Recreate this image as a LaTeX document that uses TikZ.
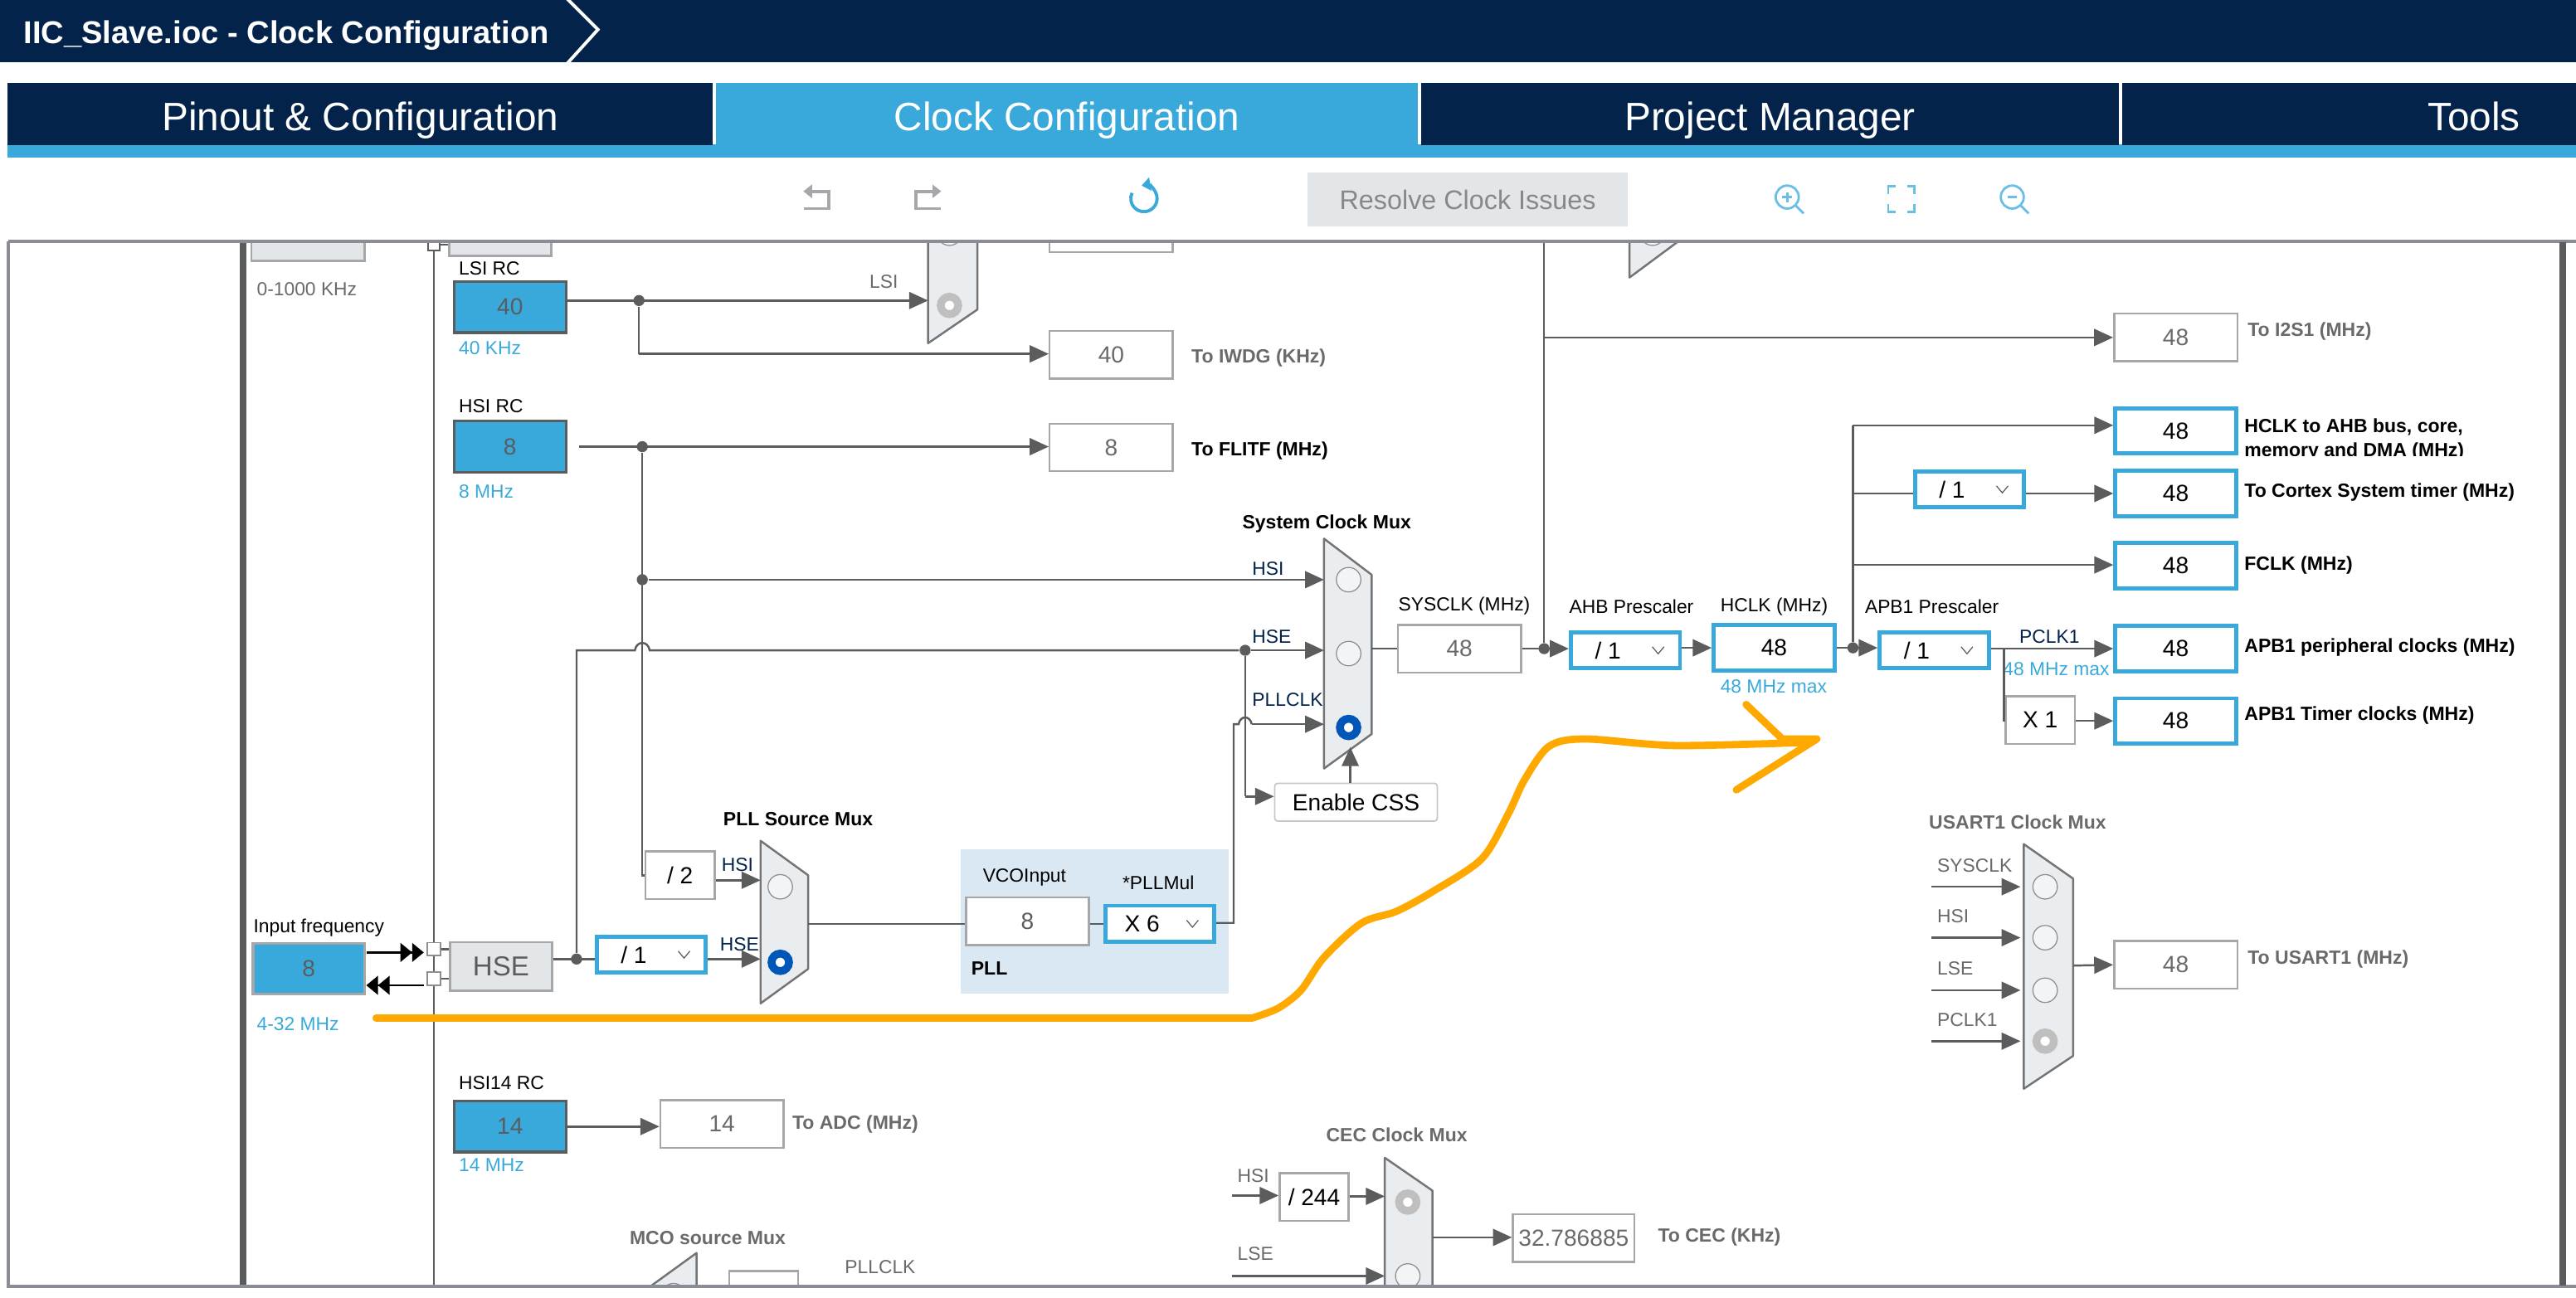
\documentclass[tikz,border=0pt]{standalone}
\usepackage{fontspec}
\setmainfont{Liberation Sans}
\usetikzlibrary{arrows.meta}
\definecolor{navy}{HTML}{03234B}
\definecolor{skyblue}{HTML}{39A9DC}
\definecolor{wirecol}{HTML}{5A5C5E}
\definecolor{panelline}{HTML}{8A8D95}
\definecolor{boxgray}{HTML}{A5A7AA}
\definecolor{softgray}{HTML}{E3E6E9}
\definecolor{muxfill}{HTML}{EAEDF0}
\definecolor{pllfill}{HTML}{DAE8F4}
\definecolor{textgray}{HTML}{6A6A6A}
\definecolor{radioblue}{HTML}{0057B8}
\definecolor{radiogray}{HTML}{BFBFBF}
\definecolor{strokeorange}{HTML}{FFA800}
\newcommand{\pxu}{0.5633pt}
\tikzset{
  wire/.style={draw=wirecol,line width=.7pt},
  feed/.style={wire,-{Triangle[length=6.5pt,width=5.8pt]}},
  padfeed/.style={draw=black,line width=.7pt,-{Triangle[length=4pt,width=6.4pt]Triangle[length=4pt,width=6.4pt]}},
  lbl/.style={anchor=west,inner sep=0pt,yshift=-.5pt,font=\fontsize{6.5}{8}\selectfont},
  lblgray/.style={lbl,text=textgray},
  lblnavy/.style={lbl,text=navy},
  lblblue/.style={lbl,text=skyblue},
  head/.style={lbl,font=\fontsize{6.55}{8}\selectfont\bfseries},
  headgray/.style={head,text=textgray},
  outbox/.style={draw=boxgray,fill=white,line width=.7pt,inner sep=0pt,minimum width=75*\pxu,minimum height=29*\pxu,font=\fontsize{8}{10}\selectfont,text=textgray},
  blueout/.style={draw=skyblue,fill=white,line width=1.4pt,inner sep=0pt,minimum width=73.5*\pxu,minimum height=27.5*\pxu,font=\fontsize{8}{10}\selectfont},
  smallbox/.style={outbox,minimum width=42*\pxu,text=black},
  dropbox/.style={draw=skyblue,fill=white,line width=1.4pt,inner sep=0pt,minimum width=66.5*\pxu,minimum height=22*\pxu,font=\fontsize{8}{10}\selectfont,
    execute at end node=\hspace{12pt},
    path picture={\draw[wirecol,line width=.35pt] ([xshift=-9.5pt,yshift=1.2pt]path picture bounding box.east) -- ++(2pt,-2.4pt) -- ++(2pt,2.4pt);}},
  srcbox/.style={draw=wirecol,fill=skyblue,line width=.9pt,inner sep=0pt,minimum width=68*\pxu,minimum height=31*\pxu,font=\fontsize{8}{10}\selectfont,text=wirecol},
  softbox/.style={draw=boxgray,fill=softgray,line width=.8pt,inner sep=0pt},
  joint/.style={circle,fill=wirecol,inner sep=0pt,minimum size=3.8pt},
  radiooff/.style={circle,draw=wirecol!70,fill=muxfill!60,line width=.35pt,inner sep=0pt,minimum size=8.4pt},
  radioon/.style={circle,draw=radioblue,fill=white,line width=2.7pt,inner sep=0pt,minimum size=6pt},
  radiosel/.style={circle,draw=radiogray,fill=white,line width=2.7pt,inner sep=0pt,minimum size=6pt},
  muxface/.style={fill=muxfill,draw=wirecol!85,line width=.7pt,line join=round},
  tabdark/.style={fill=navy,text=white,inner sep=0pt,minimum height=38*\pxu,text height=11.3pt,text depth=0pt,font=\fontsize{13.6}{16}\selectfont},
  tablight/.style={tabdark,fill=skyblue},
  toolgray/.style={draw=boxgray,line width=1.1pt},
  toolblue/.style={draw=skyblue!75,line width=.8pt},
  pen/.style={draw=strokeorange,line width=2.5pt,line cap=round,line join=round}
}
\begin{document}
\begin{tikzpicture}[x=0.0198cm,y=-0.0198cm]
  \useasboundingbox (0,0) rectangle (1568.2,790.4);
  \fill[navy] (0,0) rectangle (1570,38);
  \node[anchor=west,inner sep=0pt,text=white,font=\fontsize{10.85}{13}\selectfont\bfseries] (title) at (14,21.5) {IIC\_Slave.ioc - Clock Configuration};
  \draw[white,line width=1.1pt] (345,-1) -- (364,18) -- (345,39);
  \fill[skyblue] (4.6,88) rectangle (1570,96);
  \node[tabdark,minimum width=429.5*\pxu] (pinout) at (219.3,69.3) {Pinout \& Configuration};
  \node[tablight,minimum width=427*\pxu] (clock) at (649.5,69.3) {Clock Configuration};
  \node[tabdark,minimum width=425*\pxu] (project) at (1077.5,69.3) {Project Manager};
  \node[tabdark,minimum width=428*\pxu] (tools) at (1506,69.3) {Tools};
  \draw[toolgray,-{Triangle[length=3pt,width=4.5pt]}] (489.5,127) -- (504.5,127) -- (504.5,116.5) -- (489,116.5);
  \draw[toolgray,-{Triangle[length=3pt,width=4.5pt]}] (572.5,127) -- (557.5,127) -- (557.5,116.5) -- (573,116.5);
  \draw[draw=skyblue,line width=1.1pt,{Triangle[length=3pt,width=4.5pt]}-] (695,113) arc[start angle=-100,end angle=205,radius=8];
  \node[softbox,draw=none,text=textgray!80,minimum width=195*\pxu,minimum height=33*\pxu,font=\fontsize{9.2}{11}\selectfont] (resolve) at (893.5,121.5) {Resolve Clock Issues};
  \foreach \x in {1088,1225}{
    \draw[toolblue] (\x,120) circle (7);
    \draw[toolblue] (\x+5,125) -- (\x+10,130);
    \draw[toolblue] (\x-3,120) -- (\x+3,120);
  }
  \draw[toolblue] (1088,117) -- (1088,123);
  \draw[toolblue] (1154,113.5) -- (1149.5,113.5) -- (1149.5,118);
  \draw[toolblue] (1161,113.5) -- (1165.5,113.5) -- (1165.5,118);
  \draw[toolblue] (1154,129) -- (1149.5,129) -- (1149.5,124);
  \draw[toolblue] (1161,129) -- (1165.5,129) -- (1165.5,124);

  \begin{scope}
    \clip (5,147) rectangle (1560,783.5);
    \draw[wirecol,line width=2.2pt] (148,147) -- (148,784);
    \draw[wirecol,line width=.6pt] (264,147) -- (264,784);
    \node[softbox,minimum width=69*\pxu,minimum height=32*\pxu] (lsebox) at (187.5,143) {};
    \node[softbox,minimum width=62*\pxu,minimum height=30*\pxu] (lsepad) at (304.5,141) {};
    \node[lblgray] (lserange) at (156,175) {0-1000 KHz};
    \node[draw=wirecol,fill=white,line width=.5pt,inner sep=0pt,minimum width=7*\pxu,minimum height=7*\pxu] (lsesq) at (264,149) {};
    \draw[wire] (lsesq) -- (lsesq -| lsepad.west);

    \fill[pllfill] (585,517) rectangle (748,605);

    % LSI
    \node[lbl] (lsiname) at (279,162.5) {LSI RC};
    \node[srcbox] (lsirc) at (310.5,187) {40};
    \node[lblblue] (lsifreq) at (279,211) {40 KHz};
    \draw[muxface] (565,100) -- (595,100) -- (595,188.5) -- (565,209) -- cycle;
    \node[radiooff] (lsiport0) at (578,142) {};
    \node[radiosel] (lsiport) at (578,186) {};
    \coordinate (lsiin) at (565,183);
    \node[lblgray] (lsitag) at (529,170.5) {LSI};
    \node[joint] (lsijoin) at (389,183) {};
    \coordinate (iwdgturn) at (389,215.5);
    \node[outbox] (rtcout) at (676.5,139) {};
    \node[outbox] (iwdg) at (676.5,216) {40};
    \node[headgray] (iwdgtxt) at (725,217) {To IWDG (KHz)};
    \draw[feed] (lsirc.east |- lsiin) -- (lsiin);
    \draw[wire] (lsijoin) -- (iwdgturn);
    \draw[feed] (iwdgturn) -- (iwdg.west |- iwdgturn);

    % HSI
    \node[lbl] (hsiname) at (279,246.5) {HSI RC};
    \node[srcbox] (hsirc) at (310.5,272) {8};
    \node[lblblue] (hsifreq) at (279,298.5) {8 MHz};
    \node[joint] (hsijoin) at (391,272) {};
    \node[joint] (hsisys) at (391,353) {};
    \node[outbox] (flitf) at (676.5,272.5) {8};
    \node[head] (flitftxt) at (725,273.5) {To FLITF (MHz)};
    \node[smallbox] (hsidiv) at (414,533) {/ 2};
    \coordinate (hsidivturn) at (391,533);
    \draw[feed] ([xshift=4]hsirc.east |- hsijoin) -- (flitf.west |- hsijoin);
    \draw[wire] (hsijoin) -- (hsidivturn) -- (hsidiv.west);

    % system clock mux
    \node[head] (sysname) at (756,318) {System Clock Mux};
    \draw[muxface] (806,328) -- (835,350) -- (835,447) -- (806,468) -- cycle;
    \node[radiooff] (sysport1) at (821,353) {};
    \node[radiooff] (sysport2) at (821,398) {};
    \node[radioon] (sysport3) at (821,443) {};
    \coordinate (sysin1) at (806,353);
    \coordinate (sysin2) at (806,396);
    \coordinate (sysin3) at (806,441);
    \node[lblnavy] (syshsi) at (762,345.5) {HSI};
    \node[lblnavy] (syshse) at (762,387) {HSE};
    \node[lblnavy] (syspll) at (762,425) {PLLCLK};
    \draw[feed] (hsisys) -- (sysin1);

    % HSE
    \node[lbl] (inputname) at (154,564) {Input frequency};
    \node[srcbox,draw=boxgray] (inputfreq) at (188,590) {8};
    \node[lblblue] (inputrange) at (156,622.5) {4-32 MHz};
    \coordinate (oscintail) at (223,580);
    \coordinate (oscinhead) at (258,580);
    \coordinate (oscouttail) at (258,600);
    \coordinate (oscouthead) at (223,600);
    \draw[padfeed] (oscintail) -- (oscinhead);
    \draw[padfeed] (oscouttail) -- (oscouthead);
    \node[softbox,text=wirecol,minimum width=62*\pxu,minimum height=29.5*\pxu,font=\fontsize{9.4}{11}\selectfont] (hse) at (305,588.5) {HSE};
    \node[draw=wirecol!70,fill=white,line width=.5pt,inner sep=0pt,minimum width=8*\pxu,minimum height=8*\pxu] (oscin) at (264,578) {};
    \node[draw=wirecol!70,fill=white,line width=.5pt,inner sep=0pt,minimum width=8*\pxu,minimum height=8*\pxu] (oscout) at (264,596) {};
    \draw[wire] (oscin) -- (oscin -| hse.west);
    \draw[wire] (oscout) -- (oscout -| hse.west);
    \node[joint] (hsejoin) at (351,584) {};
    \node[dropbox] (hsediv) at (396.5,581.3) {/ 1};
    \coordinate (hseup) at (351,396);
    \coordinate (hopa) at (386.5,396);
    \coordinate (hopb) at (395.5,396);
    \node[joint] (hsesys) at (758,396) {};
    \draw[wire] (hse.east |- hsejoin) -- (hsediv.west |- hsejoin);
    \draw[wire] (hsejoin) -- (hseup) -- (hopa) .. controls (387.5,390) and (394.5,390) .. (hopb) -- (hsesys);
    \draw[feed] (hsesys) -- (sysin2);

    % PLL
    \node[head] (pllmuxname) at (440,498) {PLL Source Mux};
    \draw[muxface] (463,512) -- (492,533) -- (492,590) -- (463,611) -- cycle;
    \node[radiooff] (pllport1) at (475,540) {};
    \node[radioon] (pllport2) at (475,586) {};
    \coordinate (pllin1) at (463,536);
    \coordinate (pllin2) at (463,584);
    \coordinate (pllout) at (492,562.5);
    \node[lblnavy] (pllhsi) at (439,525.5) {HSI};
    \node[lblnavy] (pllhse) at (438,574) {HSE};
    \draw[feed] (hsidiv.east |- pllin1) -- (pllin1);
    \draw[feed] (hsediv.east |- pllin2) -- (pllin2);
    \node[lbl] (vconame) at (598,533.5) {VCOInput};
    \node[lbl] (mulname) at (683,536.5) {*PLLMul};
    \node[outbox,text=wirecol] (vcoin) at (625.5,561) {8};
    \node[dropbox] (pllmul) at (706,562.5) {X 6};
    \node[head] (pllname) at (591,589) {PLL};
    \draw[wire] (pllout) -- (vcoin.west |- pllout);
    \draw[wire] (vcoin.east |- pllmul) -- (pllmul.west);
    \coordinate (pllturn) at (751,562);
    \coordinate (pllup) at (751,441);
    \coordinate (pllhopa) at (754,441);
    \coordinate (pllhopb) at (762,441);
    \draw[wire] (pllmul.east |- pllturn) -- (pllturn) -- (pllup) -- (pllhopa) .. controls (755,435.5) and (761,435.5) .. (pllhopb);
    \draw[feed] (pllhopb) -- (sysin3);

    % clock security
    \node[draw=softgray!70!gray,fill=white,rounded corners=1pt,line width=.5pt,inner sep=0pt,minimum width=99*\pxu,minimum height=23*\pxu,font=\fontsize{8}{10}\selectfont] (css) at (825.5,488.5) {Enable CSS};
    \coordinate (cssturn) at (758,485);
    \draw[wire] (hsesys) -- (cssturn);
    \draw[feed] (cssturn) -- (css.west |- cssturn);
    \coordinate (cssport) at (822,455);
    \draw[feed] (css.north -| cssport) -- (cssport);

    % sysclk chain
    \node[lbl] (sysclkname) at (851,368) {SYSCLK (MHz)};
    \node[outbox] (sysclk) at (888.5,395) {48};
    \node[lbl] (ahbname) at (955,368.5) {AHB Prescaler};
    \node[dropbox] (ahbdiv) at (989.5,396) {/ 1};
    \node[lbl] (hclkname) at (1047,368.5) {HCLK (MHz)};
    \node[blueout] (hclk) at (1080,394.5) {48};
    \node[lblblue] (hclkmax) at (1047,417) {48 MHz max};
    \node[lbl] (apbname) at (1135,368.5) {APB1 Prescaler};
    \node[dropbox] (apbdiv) at (1177.5,396) {/ 1};
    \node[joint] (sysjoin) at (940,395) {};
    \node[joint] (hclkjoin) at (1128,394.5) {};
    \coordinate (sysup) at (940,140);
    \coordinate (i2sturn) at (940,205.5);
    \draw[wire] (835,395) -- (sysclk.west);
    \draw[feed] (sysclk.east) -- (ahbdiv.west |- sysclk);
    \draw[wire] (sysjoin) -- (sysup);
    \draw[feed] (ahbdiv.east |- hclk) -- (hclk.west);
    \draw[feed] (hclk.east) -- (apbdiv.west |- hclk);

    % top right mux
    \draw[muxface] (992,100) -- (1021,100) -- (1021,147.5) -- (992,169) -- cycle;
    \node[radiooff] (topport) at (1006,142) {};

    % outputs
    \node[outbox] (i2s) at (1324.5,205.5) {48};
    \node[headgray] (i2stxt) at (1368,201) {To I2S1 (MHz)};
    \draw[feed] (i2sturn) -- (i2s.west);
    \node[blueout] (bus) at (1324.5,262.5) {48};
    \node[blueout] (cortex) at (1324.5,300.5) {48};
    \node[blueout] (fclk) at (1324.5,344.5) {48};
    \node[blueout] (apbper) at (1324.5,395) {48};
    \node[blueout] (apbtim) at (1324.5,439) {48};
    \node[head] (bustxta) at (1366,259) {HCLK to AHB bus, core,};
    \begin{scope}
      \clip (1364,262) rectangle (1560,277.5);
      \node[head] (bustxtb) at (1366,274) {memory and DMA (MHz)};
    \end{scope}
    \node[head] (cortextxt) at (1366,299) {To Cortex System timer (MHz)};
    \node[head] (fclktxt) at (1366,343.5) {FCLK (MHz)};
    \node[head] (apbpertxt) at (1366,393.5) {APB1 peripheral clocks (MHz)};
    \node[head] (apbtimtxt) at (1366,434.5) {APB1 Timer clocks (MHz)};
    \coordinate (busturn) at (1128,259);
    \coordinate (cortexjoin) at (1128,300.5);
    \coordinate (fclkjoin) at (1128,344);
    \node[dropbox] (cortexdiv) at (1199,298) {/ 1};
    \draw[wire] (hclkjoin) -- (busturn);
    \draw[feed] (busturn) -- (bus.west |- busturn);
    \draw[wire] (cortexjoin) -- (cortexdiv.west |- cortexjoin);
    \draw[feed] (cortexdiv.east |- cortexjoin) -- (cortex.west);
    \draw[feed] (fclkjoin) -- (fclk.west |- fclkjoin);
    \node[lblnavy] (pclktag) at (1229,387) {PCLK1};
    \node[lblblue] (pclkmax) at (1219,406.5) {48 MHz max};
    \coordinate (timturn) at (1220,395);
    \coordinate (timdown) at (1220,439);
    \node[smallbox] (timmul) at (1242,438.5) {X 1};
    \draw[feed] (apbdiv.east |- apbper) -- (apbper.west);
    \draw[wire] (timturn) -- (timdown) -- (timmul.west |- timdown);
    \draw[feed] (timmul.east |- apbtim) -- (apbtim.west);

    % USART1
    \node[headgray] (usartname) at (1174,500) {USART1 Clock Mux};
    \draw[muxface] (1232,514) -- (1262,535) -- (1262,643) -- (1232,663) -- cycle;
    \foreach \y/\t [count=\i] in {540/SYSCLK, 571/HSI, 603/LSE, 634/PCLK1}{
      \coordinate (usartsrc\i) at (1176,\y);
      \coordinate (usartin\i) at (1230,\y);
      \node[lblgray] (usarttag\i) at (1179,\y-14) {\t};
      \draw[feed] (usartsrc\i) -- (usartin\i);
    }
    \foreach \i/\y in {1/540, 2/571, 3/603}
      \node[radiooff] (usartport\i) at (1245,\y) {};
    \node[radiosel] (usartport4) at (1245,634) {};
    \coordinate (usartout) at (1262,588);
    \node[outbox] (usart) at (1324.5,587.5) {48};
    \node[headgray] (usarttxt) at (1368,583) {To USART1 (MHz)};
    \draw[feed] (usartout) -- (usart.west);

    % HSI14
    \node[lbl] (hsi14name) at (279,658.5) {HSI14 RC};
    \node[srcbox] (hsi14) at (310.5,686) {14};
    \node[lblblue] (hsi14freq) at (279,708.5) {14 MHz};
    \node[outbox] (adc) at (439.5,684.5) {14};
    \node[headgray] (adctxt) at (482,683.5) {To ADC (MHz)};
    \draw[feed] (hsi14.east) -- (adc.west |- hsi14);

    % MCO
    \node[headgray] (mconame) at (383,753) {MCO source Mux};
    \draw[muxface] (424,763) -- (424,830) -- (395,830) -- (395,784) -- cycle;
    \node[radiooff] (mcoport) at (410,789) {};
    \node[smallbox] (mcodiv) at (465,788.5) {};
    \node[lblgray] (mcotag) at (514,770.5) {PLLCLK};

    % CEC
    \node[headgray] (cecname) at (807,690) {CEC Clock Mux};
    \draw[muxface] (843,705) -- (872,725) -- (872,830) -- (843,830) -- cycle;
    \node[radiosel] (cecport1) at (857,732) {};
    \node[radiooff] (cecport2) at (857,777) {};
    \node[lblgray] (cechsi) at (753,715) {HSI};
    \node[lblgray] (ceclse) at (753,762.5) {LSE};
    \node[smallbox] (cecdiv) at (800,729) {/ 244};
    \coordinate (cecsrc1) at (750,728);
    \coordinate (cecsrc2) at (750,777);
    \coordinate (cecin1) at (843,728.5);
    \coordinate (cecin2) at (843,777);
    \coordinate (cecout) at (872,753.5);
    \node[outbox,minimum width=74*\pxu] (cec) at (958,754) {32.786885};
    \node[headgray] (cectxt) at (1009,752.5) {To CEC (KHz)};
    \draw[feed] (cecsrc1) -- (cecdiv.west |- cecsrc1);
    \draw[feed] (cecdiv.east |- cecin1) -- (cecin1);
    \draw[feed] (cecsrc2) -- (cecin2);
    \draw[feed] (cecout) -- (cec.west |- cecout);
  \end{scope}

  \draw[panelline,line width=1.1pt] (5,147) -- (1568.2,147);
  \draw[panelline,line width=1.1pt] (5,147) -- (5,783.5) -- (1568.2,783.5);
  \draw[wirecol,line width=2.2pt] (1560,147.5) -- (1560,783);

  \draw[pen] (229,620) -- (762,620);
  \draw[pen] plot[smooth,tension=.5] coordinates {(762,620) (778,614) (792,603) (806,583) (829,562) (850,555) (872,543) (902,523) (918,496) (928,475) (943,454.5) (965,450) (1020,454) (1102,452)};
  \draw[pen] (1063,429) -- (1085,450) -- (1106,450) -- (1057,481);
\end{tikzpicture}
\end{document}
